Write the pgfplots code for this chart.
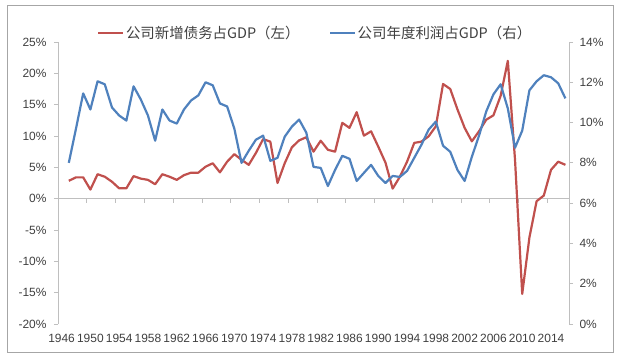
\documentclass[border=0pt]{standalone}
\usepackage{pgfplots}
\usepackage{pgfplotstable}
\pgfplotsset{compat=1.18}
\usepackage{fontspec}
\setmainfont{Liberation Sans}
\newfontfamily\cjk{Noto Sans CJK SC}
\definecolor{redline}{HTML}{C0504D}
\definecolor{blueline}{HTML}{4F81BD}
\definecolor{axisgray}{HTML}{BFBFBF}
\definecolor{bordergray}{HTML}{A6A6A6}
\definecolor{labelgray}{HTML}{404040}

\pgfplotstableread{
year debt profit
1947 2.85 8.0
1948 3.4 9.7
1949 3.4 11.45
1950 1.45 10.65
1951 3.9 12.05
1952 3.5 11.9
1953 2.7 10.75
1954 1.65 10.35
1955 1.65 10.1
1956 3.6 11.8
1957 3.2 11.15
1958 3.0 10.35
1959 2.3 9.1
1960 3.9 10.65
1961 3.5 10.1
1962 3.0 9.95
1963 3.75 10.65
1964 4.15 11.1
1965 4.15 11.35
1966 5.1 12.0
1967 5.65 11.85
1968 4.2 10.95
1969 5.9 10.8
1970 7.1 9.7
1971 6.2 8.0
1972 5.4 8.6
1973 7.3 9.15
1974 9.5 9.35
1975 9.1 8.1
1976 2.5 8.25
1977 5.65 9.3
1978 8.2 9.8
1979 9.3 10.15
1980 9.8 9.5
1981 7.5 7.8
1982 9.25 7.75
1983 7.8 6.85
1984 7.5 7.65
1985 12.1 8.35
1986 11.3 8.2
1987 13.8 7.1
1988 10.05 7.5
1989 10.75 7.9
1990 8.3 7.35
1991 5.75 7.0
1992 1.6 7.35
1993 3.5 7.3
1994 5.9 7.6
1995 8.9 8.25
1996 9.1 8.9
1997 9.95 9.65
1998 11.55 10.05
1999 18.3 8.85
2000 17.5 8.55
2001 14.25 7.65
2002 11.3 7.1
2003 9.15 8.3
2004 10.75 9.35
2005 12.6 10.55
2006 13.3 11.4
2007 16.4 11.9
2008 22.0 10.7
2009 6.2 8.75
2010 -15.2 9.6
2011 -6.2 11.6
2012 -0.4 12.05
2013 0.5 12.35
2014 4.6 12.25
2015 5.9 11.95
2016 5.4 11.2
}\datatable

\pgfplotsset{
  common/.style={
    at={(58bp,33bp)}, anchor=south west,
    scale only axis, width=511bp, height=282bp,
    xmin=1945.5, xmax=2016.5,
    tick align=outside, major tick length=4bp,
    tick label style={font=\fontsize{12}{14}\selectfont, text=labelgray},
    y axis line style={draw=axisgray, line width=0.8bp},
    ytick style={draw=axisgray, line width=0.8bp},
  }
}

\begin{document}
\begin{tikzpicture}
\useasboundingbox (0,0) rectangle (620bp,357bp);
\draw[bordergray, line width=0.8bp] (7bp,5bp) rectangle (613bp,352bp);

\begin{axis}[common,
  ymin=-20, ymax=25,
  axis y line*=left, axis x line*=bottom,
  x axis line style={draw=none},
  xtick style={draw=none},
  xtick={1946,1950,1954,1958,1962,1966,1970,1974,1978,1982,1986,1990,1994,1998,2002,2006,2010,2014},
  xticklabels={1946,1950,1954,1958,1962,1966,1970,1974,1978,1982,1986,1990,1994,1998,2002,2006,2010,2014},
  ytick={-20,-15,-10,-5,0,5,10,15,20,25},
  yticklabels={-20\%,-15\%,-10\%,-5\%,0\%,5\%,10\%,15\%,20\%,25\%},
  yticklabel style={xshift=-4bp},
  xticklabel style={yshift=-3bp},
]
\draw[axisgray, line width=0.8bp] (axis cs:1945.5,0) -- (axis cs:2016.5,0);
\pgfplotsinvokeforeach{1949.5,1953.5,1957.5,1961.5,1965.5,1969.5,1973.5,1977.5,1981.5,1985.5,1989.5,1993.5,1997.5,2001.5,2005.5,2009.5,2013.5}{
  \draw[axisgray, line width=0.8bp] (axis cs:#1,0) -- ++(0bp,-4bp);
}
\addplot[redline, line width=2.2bp, line join=round] table[x=year, y=debt] {\datatable};
\end{axis}

\begin{axis}[common,
  ymin=0, ymax=14,
  axis y line*=right, axis x line=none,
  ytick={0,2,4,6,8,10,12,14},
  yticklabels={0\%,2\%,4\%,6\%,8\%,10\%,12\%,14\%},
  yticklabel style={xshift=3bp},
  legend columns=2,
  legend style={draw=none, fill=none, at={(0.503,1.032)}, anchor=center,
    font=\cjk\fontsize{14.5}{16}\selectfont, text=labelgray,
    /tikz/every even column/.append style={column sep=28bp},
    /tikz/every odd column/.append style={column sep=0bp},
    nodes={inner xsep=1.5bp},
    inner sep=0pt},
  legend image code/.code={\draw[#1] (0bp,0bp) -- (25bp,0bp);},
]
\addlegendimage{redline, line width=2.2bp}
\addlegendentry{公司新增债务占GDP（左）}
\addplot[blueline, line width=2.2bp, line join=round] table[x=year, y=profit] {\datatable};
\addlegendentry{公司年度利润占GDP（右）}
\end{axis}
\end{tikzpicture}
\end{document}
